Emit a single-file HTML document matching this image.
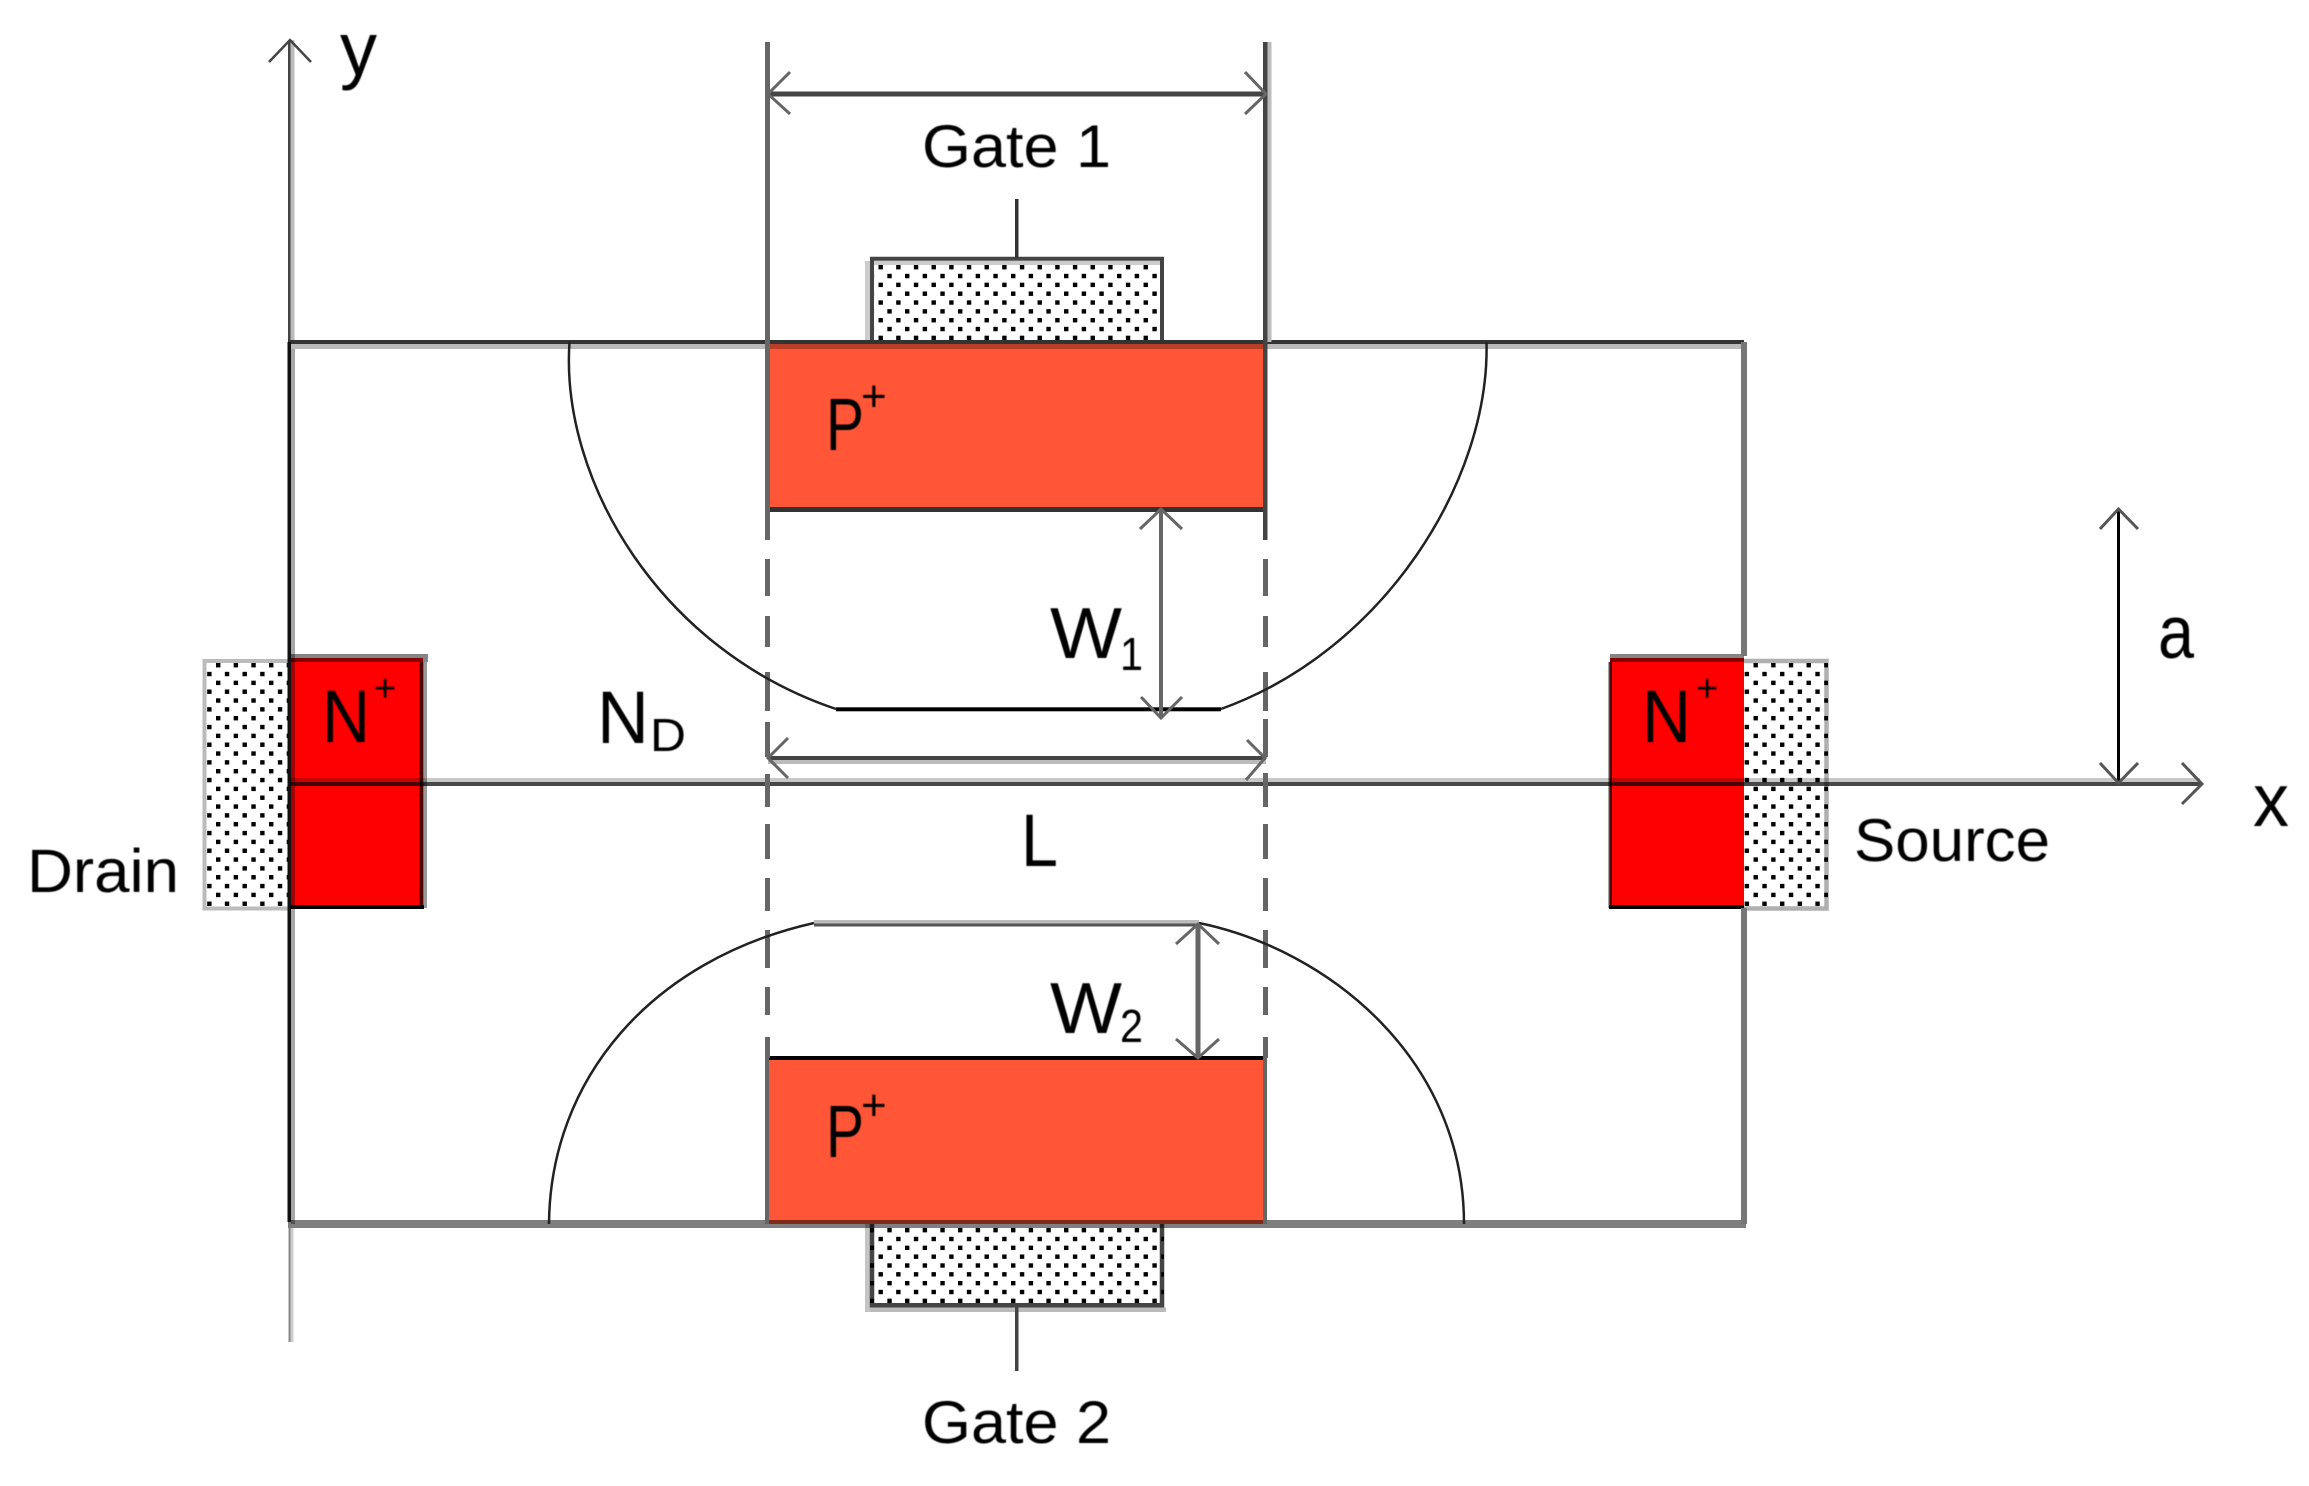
<!DOCTYPE html>
<html lang="en">
<head>
<meta charset="utf-8">
<title>Double gate JFET diagram</title>
<style>
html,body{margin:0;padding:0;background:#fff;}
svg{display:block;}
text{font-family:"Liberation Sans",sans-serif;fill:#000;}
</style>
</head>
<body>
<svg width="2309" height="1486" viewBox="0 0 2309 1486" xmlns="http://www.w3.org/2000/svg">
<defs>
<filter id="soft" x="-5%" y="-5%" width="110%" height="110%"><feGaussianBlur stdDeviation="0.6"/></filter>
<pattern id="dA" patternUnits="userSpaceOnUse" width="17.67" height="17.67" x="878.5" y="265">
  <rect x="0" y="0" width="4.4" height="4.4" fill="#000"/>
  <rect x="8.83" y="8.83" width="4.4" height="4.4" fill="#000"/>
</pattern>
<pattern id="dB" patternUnits="userSpaceOnUse" width="17.67" height="17.67" x="878.5" y="1236.8">
  <rect x="0" y="0" width="4.4" height="4.4" fill="#000"/>
  <rect x="8.83" y="8.83" width="4.4" height="4.4" fill="#000"/>
</pattern>
<pattern id="dL" patternUnits="userSpaceOnUse" width="17.67" height="17.67" x="216" y="663">
  <rect x="0" y="0" width="4.4" height="4.4" fill="#000"/>
  <rect x="8.83" y="8.83" width="4.4" height="4.4" fill="#000"/>
</pattern>
<pattern id="dR" patternUnits="userSpaceOnUse" width="17.67" height="17.67" x="1753.5" y="663">
  <rect x="0" y="0" width="4.4" height="4.4" fill="#000"/>
  <rect x="8.83" y="8.83" width="4.4" height="4.4" fill="#000"/>
</pattern>
</defs>

<!-- stippled contact borders -->
<rect x="865" y="261" width="5" height="81" fill="#ccc"/>
<rect x="874" y="261" width="288" height="4" fill="#ccc"/>
<path d="M872 342V258.7H1162V342" fill="none" stroke="#444" stroke-width="4"/>
<rect x="865" y="1224" width="5" height="88" fill="#c4c4c4"/>
<rect x="870" y="1307.5" width="296" height="4.5" fill="#bbb"/>
<path d="M872 1224V1305.3H1162V1224" fill="none" stroke="#444" stroke-width="4.5"/>
<path d="M290 661H204.5V908.5H290" fill="none" stroke="#bbb" stroke-width="4"/>
<path d="M1744 661H1826.5V908.5H1744" fill="none" stroke="#b0b0b0" stroke-width="4.5"/>

<!-- stipple dots -->
<rect x="874" y="261" width="286" height="81" fill="url(#dA)"/>
<rect x="870" y="1224" width="294" height="82" fill="url(#dB)"/>
<rect x="206" y="662" width="84" height="246" fill="url(#dL)"/>
<rect x="1744" y="662" width="84" height="246" fill="url(#dR)"/>

<!-- coloured regions -->
<rect x="768" y="342" width="498" height="168" fill="#ff5637"/>
<rect x="768" y="1058" width="498" height="166" fill="#ff5637"/>
<rect x="290" y="658" width="133" height="250" fill="#ff0000"/>
<rect x="1610" y="658" width="134" height="250" fill="#ff0000"/>

<!-- N+ borders -->
<rect x="290" y="654" width="138" height="8" fill="#000" opacity=".48"/>
<rect x="1610" y="654" width="134" height="8" fill="#000" opacity=".48"/>
<rect x="419.5" y="662" width="4" height="246" fill="#000" opacity=".7"/>
<rect x="423.5" y="662" width="3.5" height="246" fill="#999"/>
<rect x="1608.5" y="662" width="3.5" height="246" fill="#000" opacity=".7"/>
<rect x="290" y="905" width="134" height="4" fill="#000"/>
<rect x="1609" y="905" width="135" height="4" fill="#000"/>

<!-- device outline -->
<rect x="288" y="340" width="1456" height="4" fill="#333"/>
<rect x="291" y="344" width="1453" height="5" fill="#000" opacity=".27"/>
<rect x="288" y="1220" width="1458" height="8" fill="#000" opacity=".5"/>
<rect x="1741" y="342" width="6" height="314" fill="#777"/>
<rect x="1741" y="908" width="6" height="316" fill="#777"/>

<!-- P+ lower edges -->
<rect x="768" y="507" width="498" height="5" fill="#333"/>
<rect x="768" y="1056" width="498" height="4" fill="#000"/>

<!-- y axis -->
<rect x="288" y="40" width="2.5" height="300" fill="#444"/>
<rect x="290.5" y="40" width="4" height="300" fill="#bbb"/>
<rect x="287.5" y="342" width="3.5" height="880" fill="#111"/>
<rect x="291" y="349" width="4" height="875" fill="#000" opacity=".35"/>
<rect x="288.5" y="1228" width="2" height="114" fill="#888"/>
<rect x="290.5" y="1228" width="3" height="114" fill="#ccc"/>
<path d="M269 62L290 40L311 62" fill="none" stroke="#444" stroke-width="2.5"/>

<!-- x axis -->
<rect x="290" y="778" width="1910" height="4" fill="#000" opacity=".22"/>
<rect x="290" y="782" width="1910" height="4" fill="#000" opacity=".72"/>
<path d="M2182 763L2202 784L2182 804" fill="none" stroke="#555" stroke-width="3"/>

<!-- vertical dimension lines -->
<rect x="765" y="42" width="5" height="498" fill="#666"/>
<rect x="1263" y="42" width="4.5" height="498" fill="#444"/>
<rect x="1267.5" y="42" width="4" height="300" fill="#bbb"/>
<g fill="#666">
<rect x="765" y="559" width="5" height="37"/><rect x="765" y="616" width="5" height="31"/>
<rect x="765" y="672" width="5" height="39"/><rect x="765" y="722" width="5" height="35"/>
<rect x="765" y="774" width="5" height="33"/><rect x="765" y="824" width="5" height="35"/>
<rect x="765" y="878" width="5" height="33"/><rect x="765" y="930" width="5" height="38"/>
<rect x="765" y="987" width="5" height="28"/><rect x="765" y="1037" width="5" height="21"/>
<rect x="765" y="1058" width="4" height="166"/>
<rect x="1263" y="559" width="5" height="37"/><rect x="1263" y="616" width="5" height="31"/>
<rect x="1263" y="672" width="5" height="39"/><rect x="1263" y="719" width="5" height="38"/>
<rect x="1263" y="773" width="5" height="34"/><rect x="1263" y="824" width="5" height="35"/>
<rect x="1263" y="878" width="5" height="33"/><rect x="1263" y="930" width="5" height="38"/>
<rect x="1263" y="987" width="5" height="28"/><rect x="1263" y="1037" width="5" height="21"/>
<rect x="1263" y="1058" width="4" height="166"/>
</g>

<!-- depletion regions -->
<path d="M569.5 342C560 480 660 650 836 709" fill="none" stroke="#222" stroke-width="2.5"/>
<path d="M1486.5 342C1490 480 1385 650 1221 709" fill="none" stroke="#222" stroke-width="2.5"/>
<rect x="836" y="707.3" width="385" height="4" fill="#000"/>
<path d="M549 1224C550 1080 650 960 814 923" fill="none" stroke="#222" stroke-width="2.5"/>
<path d="M1199 923C1330 950 1464 1060 1464 1224" fill="none" stroke="#222" stroke-width="2.5"/>
<rect x="814" y="920" width="385" height="3.5" fill="#bbb"/>
<rect x="814" y="923.5" width="385" height="3" fill="#555"/>

<!-- gate stems -->
<rect x="1015" y="199" width="3.5" height="59" fill="#333"/>
<rect x="1015" y="1306" width="3.5" height="65" fill="#444"/>

<!-- dimension arrows -->
<rect x="768" y="91.5" width="498" height="5" fill="#444"/>
<path d="M790 72L768 94L790 114M1245 72L1266 94L1245 114" fill="none" stroke="#666" stroke-width="3"/>
<rect x="768" y="756" width="498" height="4" fill="#444"/>
<rect x="768" y="760" width="498" height="4" fill="#bbb"/>
<path d="M788 738L768 758L788 778M1247 740L1265 758L1246 780" fill="none" stroke="#666" stroke-width="3"/>
<rect x="1159" y="509" width="4" height="209" fill="#666"/>
<path d="M1140 529L1161 509L1182 529M1141 697L1161 718L1182 697" fill="none" stroke="#666" stroke-width="3"/>
<rect x="1195.5" y="924" width="5" height="134" fill="#666"/>
<path d="M1176 944L1198 924L1219 944M1176 1039L1198 1058L1219 1039" fill="none" stroke="#666" stroke-width="3"/>
<rect x="2117" y="509" width="3" height="274" fill="#000"/>
<path d="M2100 529L2118.5 509L2138 529M2100 763L2118.5 783L2138 763" fill="none" stroke="#555" stroke-width="3"/>

<!-- labels -->
<g filter="url(#soft)">
<text x="340" y="75" font-size="75" textLength="37" lengthAdjust="spacingAndGlyphs">y</text>
<text x="922" y="167" font-size="60" textLength="189" lengthAdjust="spacingAndGlyphs">Gate 1</text>
<text x="922" y="1443" font-size="60" textLength="189" lengthAdjust="spacingAndGlyphs">Gate 2</text>
<text x="826" y="450" font-size="74" textLength="38" lengthAdjust="spacingAndGlyphs">P</text>
<text x="861" y="411" font-size="44">+</text>
<text x="826" y="1157" font-size="74" textLength="38" lengthAdjust="spacingAndGlyphs">P</text>
<text x="861" y="1120" font-size="44">+</text>
<text x="322" y="742" font-size="74" textLength="48" lengthAdjust="spacingAndGlyphs">N</text>
<text x="374" y="701" font-size="38">+</text>
<text x="1642" y="742" font-size="74" textLength="49" lengthAdjust="spacingAndGlyphs">N</text>
<text x="1696" y="701" font-size="38">+</text>
<text x="597" y="743" font-size="74" textLength="52" lengthAdjust="spacingAndGlyphs">N</text>
<text x="650" y="751" font-size="46" textLength="36" lengthAdjust="spacingAndGlyphs">D</text>
<text x="1050" y="658" font-size="72" textLength="72" lengthAdjust="spacingAndGlyphs">W</text>
<text x="1120" y="670" font-size="46" textLength="23" lengthAdjust="spacingAndGlyphs">1</text>
<text x="1050" y="1033" font-size="72" textLength="72" lengthAdjust="spacingAndGlyphs">W</text>
<text x="1120" y="1042" font-size="46" textLength="23" lengthAdjust="spacingAndGlyphs">2</text>
<text x="1021" y="866" font-size="74" textLength="37" lengthAdjust="spacingAndGlyphs">L</text>
<text x="27" y="892" font-size="61" textLength="152" lengthAdjust="spacingAndGlyphs">Drain</text>
<text x="1854" y="861" font-size="60" textLength="196" lengthAdjust="spacingAndGlyphs">Source</text>
<text x="2158" y="658" font-size="75" textLength="36" lengthAdjust="spacingAndGlyphs">a</text>
<text x="2253" y="826" font-size="75" textLength="36" lengthAdjust="spacingAndGlyphs">x</text>
</g>
</svg>
</body>
</html>
